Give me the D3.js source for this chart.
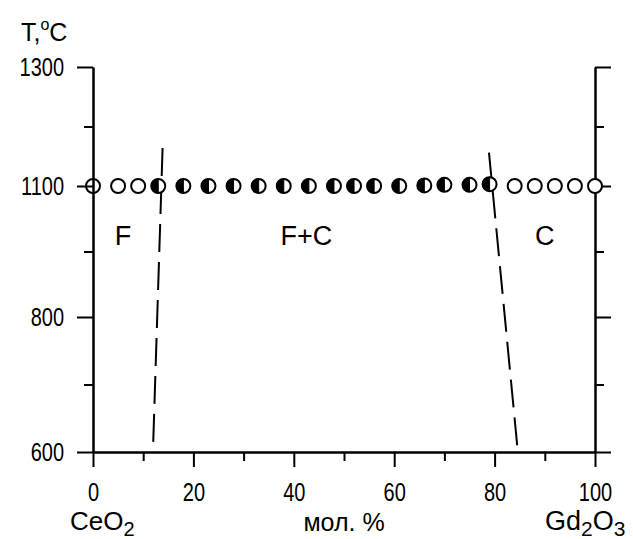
<!DOCTYPE html>
<html>
<head>
<meta charset="utf-8">
<script src="https://cdn.jsdelivr.net/npm/d3@7/dist/d3.min.js"></script>
<style>
  html, body { margin: 0; padding: 0; background: #fff; }
  svg { display: block; }
  text { font-family: "Liberation Sans", Arial, sans-serif; fill: #000; }
</style>
</head>
<body>
<svg id="chart" width="633" height="539"></svg>
<script>
// ---- data ----
const xMajorTicks = [0, 20, 40, 60, 80, 100];
const xMinorTicks = [10, 30, 50, 70, 90];
const yMajorTicks = [600, 800, 1100, 1300];
const yMinorTicks = [700, 950, 1200];

const composition = [0, 5, 9, 13, 18, 23, 28, 33, 38, 43, 48, 52, 56, 61, 66, 70, 75, 79, 84, 88, 92, 96, 100];
const temperature = [1100, 1100, 1100, 1100, 1100, 1100, 1100, 1100, 1100, 1100, 1100, 1100, 1100, 1100, 1101, 1102, 1102, 1103, 1100, 1100, 1100, 1100, 1100];
const phase = ["F", "F", "F", "F+C", "F+C", "F+C", "F+C", "F+C", "F+C", "F+C", "F+C", "F+C", "F+C", "F+C", "F+C", "F+C", "F+C", "F+C", "C", "C", "C", "C", "C"];

const boundaryFx = [12, 13.9];
const boundaryFt = [615, 1174];
const boundaryCx = [84.5, 78.7];
const boundaryCt = [610, 1172];

const regionNames = ["F", "F+C", "C"];
const regionX = [6, 42.5, 90];
const regionT = [965, 965, 965];

// ---- scales ----
const svg = d3.select("#chart");
const x = d3.scaleLinear().domain([0, 100]).range([93, 595]);
const y = d3.scaleLinear().domain([600, 800, 1100, 1300]).range([452, 317, 186, 67]);

const TICK_FS = 25, SX = 0.8;

function styleAxis(g) {
  g.selectAll("path.domain").attr("stroke", "#000").attr("stroke-width", 2);
  g.selectAll(".tick line").attr("stroke", "#000").attr("stroke-width", 2);
  g.selectAll(".tick text")
    .style("font-family", '"Liberation Sans", Arial, sans-serif')
    .style("font-size", TICK_FS + "px").attr("fill", "#000")
    .attr("x", function () { return (+this.getAttribute("x") || 0) / SX; })
    .attr("transform", `scale(${SX},1)`);
}

// boundary lines
const line = d3.line().x(d => x(d[0])).y(d => y(d[1]));
[[boundaryFx, boundaryFt], [boundaryCx, boundaryCt]].forEach(([bx, bt]) => {
  svg.append("path")
    .attr("d", line(bx.map((v, i) => [v, bt[i]])))
    .attr("fill", "none").attr("stroke", "#000").attr("stroke-width", 2)
    .attr("stroke-dasharray", "28,10");
});

// right axis (beneath points)
const gR = svg.append("g").attr("transform", `translate(${x(100)},0)`);
gR.call(d3.axisRight(y).tickValues(yMajorTicks).tickSize(16).tickSizeOuter(0).tickFormat(""));
gR.append("g").call(d3.axisRight(y).tickValues(yMinorTicks).tickSize(9).tickSizeOuter(0).tickFormat(""));
styleAxis(gR);

// points
const pts = composition.map((c, i) => ({ c, t: temperature[i], p: phase[i] }));
const R = 7;
const pg = svg.append("g");
pts.forEach(d => {
  const cx = x(d.c), cy = y(d.t);
  pg.append("circle").attr("cx", cx).attr("cy", cy).attr("r", R)
    .attr("fill", d.c === 0 ? "none" : "#fff").attr("stroke", "#000").attr("stroke-width", 2);
  if (d.p === "F+C") {
    pg.append("path")
      .attr("d", `M${cx},${cy - R} A${R},${R} 0 0 0 ${cx},${cy + R} Z`)
      .attr("fill", "#000").attr("stroke", "#000").attr("stroke-width", 1);
  }
});

// left axis
const gL = svg.append("g").attr("transform", `translate(${x(0)},0)`);
gL.call(d3.axisLeft(y).tickValues(yMajorTicks).tickSize(16).tickSizeOuter(0).tickPadding(13).tickFormat(d3.format("d")));
gL.append("g").call(d3.axisLeft(y).tickValues(yMinorTicks).tickSize(9).tickSizeOuter(0).tickFormat(""));
styleAxis(gL);

// bottom axis
const gB = svg.append("g").attr("transform", `translate(0,${y(600)})`);
gB.call(d3.axisBottom(x).tickValues(xMajorTicks).tickSize(15).tickSizeOuter(0).tickPadding(16).tickFormat(d3.format("d")));
gB.append("g").call(d3.axisBottom(x).tickValues(xMinorTicks).tickSize(9).tickSizeOuter(0).tickFormat(""));
styleAxis(gB);

// region labels
regionNames.forEach((n, i) => {
  svg.append("text").attr("x", x(regionX[i])).attr("y", y(regionT[i]))
    .attr("text-anchor", "middle").style("font-size", "27px").text(n);
});

// axis title
const tt = svg.append("text").attr("x", 21).attr("y", 41).style("font-size", "25px");
tt.append("tspan").text("T");
tt.append("tspan").text(",");
tt.append("tspan").attr("dx", 0).attr("dy", -11).style("font-size", "16px").text("o");
tt.append("tspan").attr("dy", 11).text("C");

// bottom labels
const ce = svg.append("text").attr("x", 70).attr("y", 530).style("font-size", "26px");
ce.append("tspan").text("CeO");
ce.append("tspan").attr("dy", 6).style("font-size", "20px").text("2");

svg.append("text").attr("x", 344).attr("y", 531).attr("text-anchor", "middle").style("font-size", "25px").text("мол. %");

const gd = svg.append("text").attr("x", 545).attr("y", 530).style("font-size", "27px");
gd.append("tspan").text("Gd");
gd.append("tspan").attr("dy", 6).style("font-size", "21px").text("2");
gd.append("tspan").attr("dy", -6).text("O");
gd.append("tspan").attr("dy", 6).style("font-size", "21px").text("3");
</script>
</body>
</html>
